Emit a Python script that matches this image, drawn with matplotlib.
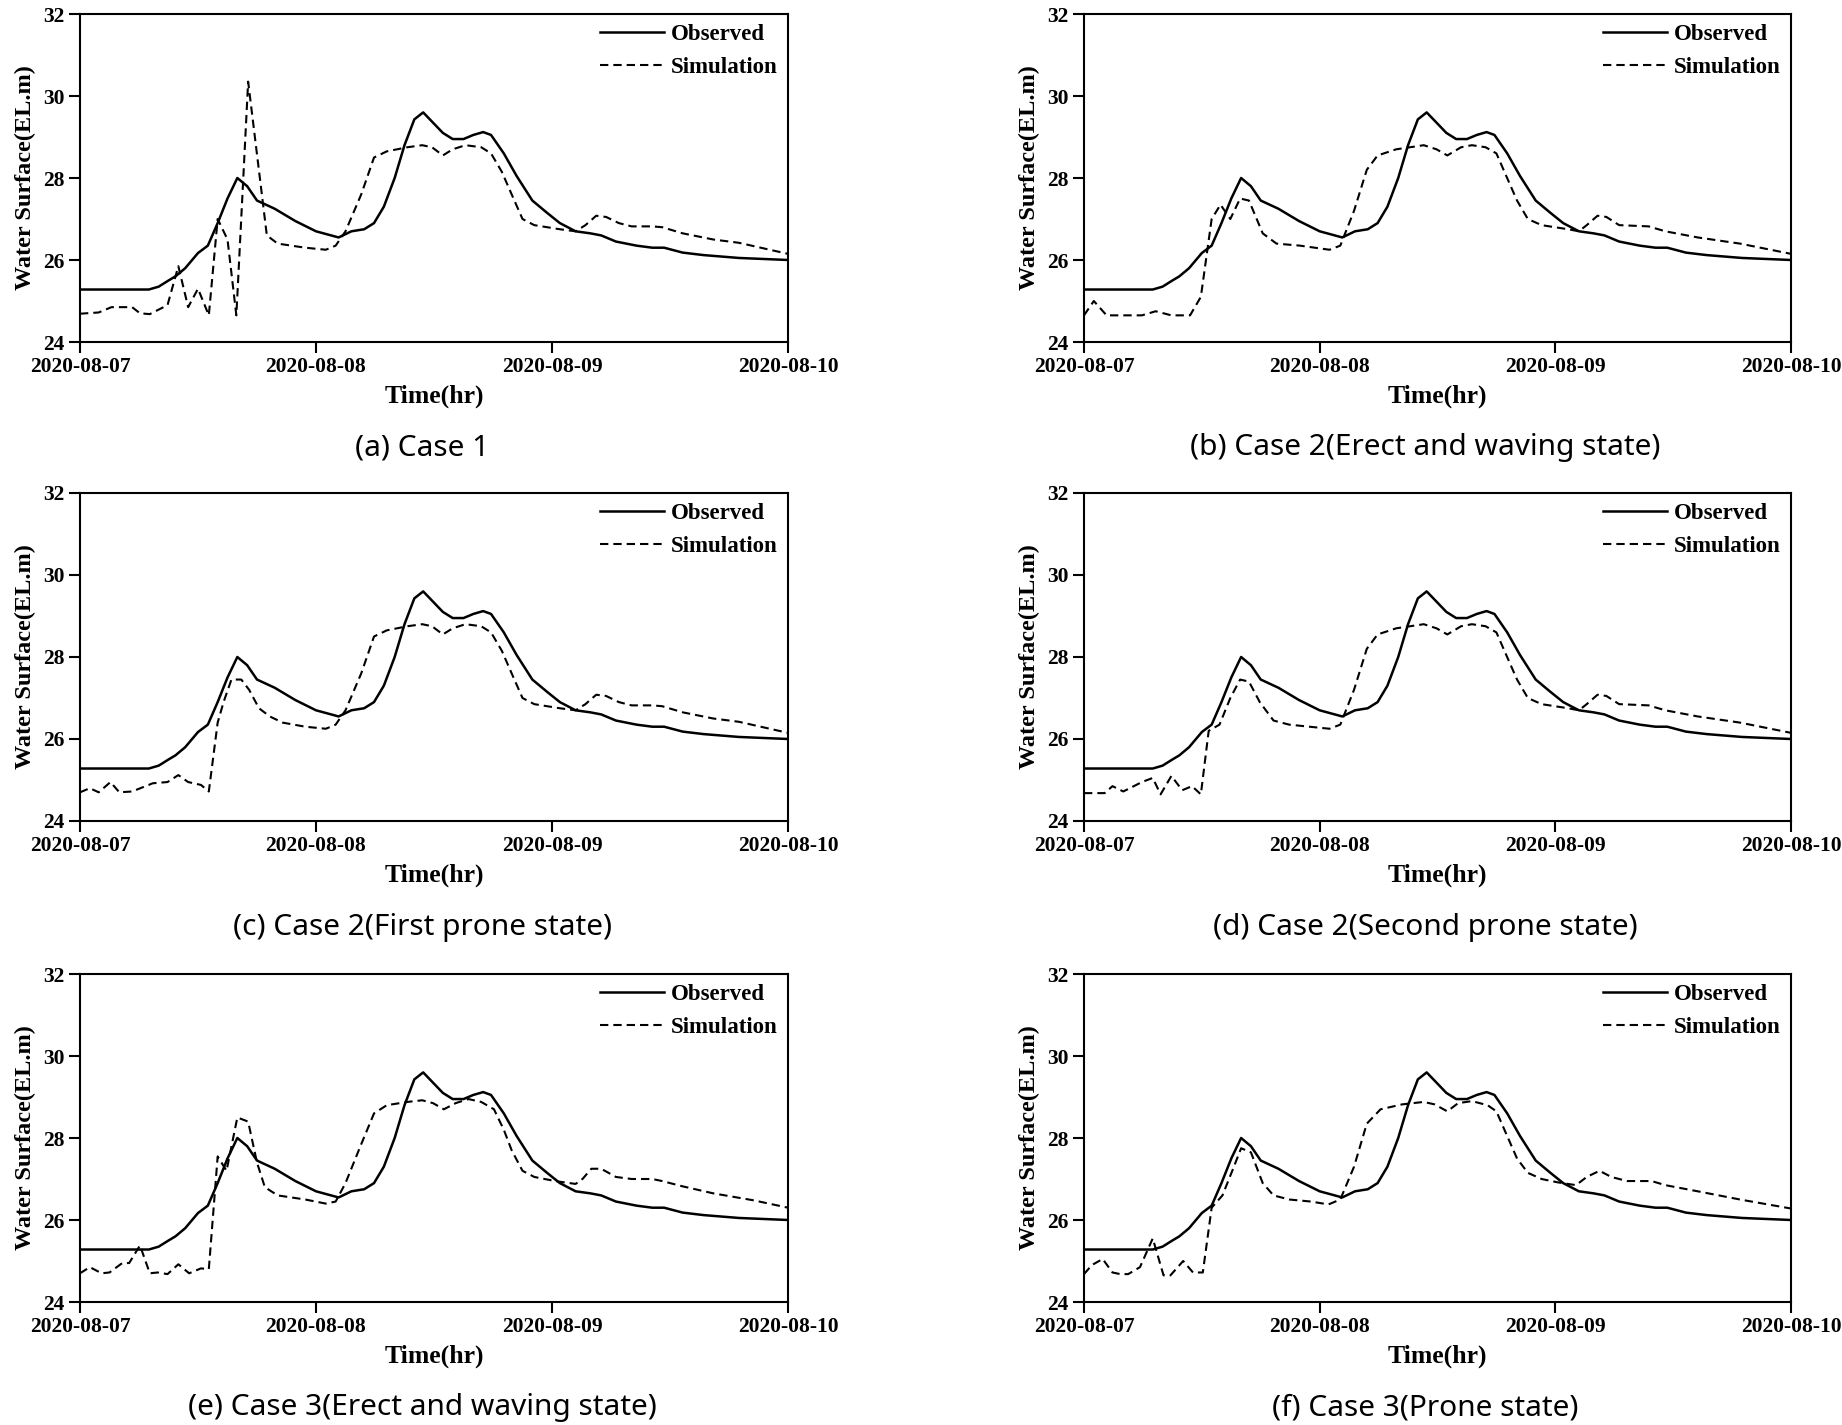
import matplotlib
matplotlib.use("Agg")
import matplotlib.pyplot as plt

# ---------------- data (hours since 2020-08-07 00:00) ----------------
tick_hours = [0, 24, 48, 72]
tick_labels = ["2020-08-07", "2020-08-08", "2020-08-09", "2020-08-10"]
y_ticks = [24, 26, 28, 30, 32]

obs_t = [0, 7, 8, 9, 9.7, 10.7, 12, 13, 14, 15, 16, 17, 18, 19.8, 21.9, 24, 26.3, 27.6,
         28.9, 29.9, 30.9, 32, 33, 34, 34.9, 35.9, 36.9, 37.9, 39, 40, 41, 41.8, 43.1,
         44.4, 46, 47.5, 48.8, 50.4, 51.9, 53, 54.5, 56.6, 58.2, 59.4, 61.3, 63.4, 67, 72]
obs_v = [25.28, 25.28, 25.35, 25.5, 25.6, 25.8, 26.17, 26.35, 26.9, 27.5, 28.0, 27.8,
         27.45, 27.25, 26.95, 26.7, 26.55, 26.7, 26.75, 26.9, 27.3, 28.0, 28.8, 29.43,
         29.6, 29.35, 29.1, 28.95, 28.95, 29.05, 29.12, 29.05, 28.6, 28.05, 27.45, 27.15,
         26.9, 26.7, 26.65, 26.6, 26.45, 26.35, 26.3, 26.3, 26.18, 26.12, 26.05, 26.0]

sim_a_t = [0, 1.9, 3.2, 5.3, 6.1, 7.1, 8.9, 10, 11, 12, 13.1, 14, 15, 15.9, 17.1, 19, 20.1,
           22.9, 25, 26, 27, 28.6, 29.9, 31.2, 33.3, 34.8, 35.8, 36.9, 37.9, 39.2, 40.8,
           41.8, 42.9, 43.9, 45, 46.2, 48.8, 50.4, 51.4, 52.5, 53.5, 54.8, 56.1, 58.2, 59.2,
           61.3, 64.4, 67, 72]
sim_a_v = [24.69, 24.72, 24.85, 24.85, 24.7, 24.68, 24.9, 25.85, 24.85, 25.3, 24.65, 27.0,
           26.5, 24.65, 30.35, 26.6, 26.4, 26.3, 26.25, 26.35, 26.7, 27.6, 28.5, 28.65,
           28.75, 28.8, 28.75, 28.55, 28.7, 28.8, 28.75, 28.6, 28.15, 27.6, 27.0, 26.85,
           26.75, 26.7, 26.85, 27.08, 27.05, 26.9, 26.82, 26.82, 26.8, 26.65, 26.5, 26.42, 26.15]

sim_b_t = [0, 1, 2.3, 5.9, 7.3, 8.9, 10.8, 11.9, 13, 13.9, 14.9, 15.9, 16.8, 18.2, 19.6, 22,
           25, 26.1, 27.5, 28.8, 29.9, 31.8, 34.6, 35.9, 37, 38.4, 39.5, 40.9, 42, 43, 44.1,
           45.2, 46.6, 49.3, 50.4, 51.2, 52.3, 53.2, 54.5, 57.5, 59.2, 62.5, 66.8, 72]
sim_b_v = [24.65, 25.0, 24.65, 24.65, 24.75, 24.65, 24.65, 25.1, 27.0, 27.35, 27.0, 27.5,
           27.45, 26.65, 26.4, 26.35, 26.25, 26.35, 27.2, 28.2, 28.55, 28.7, 28.8, 28.7,
           28.55, 28.75, 28.8, 28.75, 28.6, 28.05, 27.45, 27.0, 26.85, 26.75, 26.7, 26.85,
           27.08, 27.05, 26.85, 26.82, 26.7, 26.55, 26.4, 26.15]

sim_c_t = [0, 1, 1.9, 3.1, 4, 5.3, 7.4, 8.9, 10, 11, 12.3, 13.1, 14, 14.6, 15.4, 16.4, 17.2,
           18.2, 19.3, 20.6, 22.9, 25, 26, 27, 28.6, 29.9, 31.2, 33.3, 34.8, 35.8, 36.9, 37.9,
           39.2, 40.8, 41.8, 42.9, 43.9, 45, 46.2, 48.8, 50.4, 51.4, 52.5, 53.5, 54.8, 56.1,
           58.2, 59.2, 61.3, 64.4, 67, 72]
sim_c_v = [24.7, 24.8, 24.7, 24.95, 24.7, 24.72, 24.92, 24.95, 25.12, 24.95, 24.88, 24.72,
           26.4, 26.9, 27.45, 27.45, 27.2, 26.75, 26.55, 26.4, 26.3, 26.25, 26.35, 26.7,
           27.6, 28.5, 28.65, 28.75, 28.8, 28.75, 28.55, 28.7, 28.8, 28.75, 28.6, 28.15,
           27.6, 27.0, 26.85, 26.75, 26.7, 26.85, 27.08, 27.05, 26.9, 26.82, 26.82, 26.8,
           26.65, 26.5, 26.42, 26.15]

sim_d_t = [0, 2.1, 2.9, 4, 5.9, 7, 7.8, 8.9, 10, 11, 11.9, 12.7, 13.8, 14.9, 15.9, 16.8,
           17.9, 19.3, 20.9, 25, 26.1, 27.5, 28.8, 29.9, 31.8, 34.6, 35.9, 37, 38.4, 39.5,
           40.9, 42, 43, 44.1, 45.2, 46.6, 49.3, 50.4, 51.2, 52.3, 53.2, 54.5, 57.5, 59.2,
           62.5, 66.8, 72]
sim_d_v = [24.68, 24.68, 24.85, 24.72, 24.95, 25.05, 24.65, 25.1, 24.75, 24.85, 24.65,
           26.2, 26.35, 27.0, 27.45, 27.4, 26.9, 26.45, 26.35, 26.25, 26.35, 27.2, 28.2,
           28.55, 28.7, 28.8, 28.7, 28.55, 28.75, 28.8, 28.75, 28.6, 28.05, 27.45, 27.0,
           26.85, 26.75, 26.7, 26.85, 27.08, 27.05, 26.85, 26.82, 26.7, 26.55, 26.4, 26.15]

sim_e_t = [0, 1, 2.2, 3, 4.3, 5, 6.1, 7.1, 7.9, 8.9, 10, 11.1, 12.3, 13.1, 14, 14.9, 16,
           17.1, 18, 18.8, 20.1, 22.9, 25, 26, 27, 28.6, 29.9, 31.2, 33.3, 34.8, 35.9, 37,
           38.2, 39.5, 40.8, 42.1, 43.1, 43.9, 45, 46.2, 48.3, 50.4, 51.1, 52, 53, 54.5,
           56.1, 58.2, 59.2, 61.3, 64.4, 68.5, 72]
sim_e_v = [24.7, 24.85, 24.7, 24.72, 24.95, 24.95, 25.38, 24.7, 24.72, 24.68, 24.92, 24.7,
           24.82, 24.8, 27.55, 27.2, 28.5, 28.4, 27.4, 26.8, 26.6, 26.5, 26.4, 26.45, 26.9,
           27.85, 28.6, 28.8, 28.88, 28.92, 28.85, 28.7, 28.85, 28.95, 28.88, 28.7, 28.2,
           27.7, 27.2, 27.05, 26.95, 26.88, 27.0, 27.25, 27.25, 27.05, 27.0, 27.0, 26.95,
           26.82, 26.65, 26.48, 26.3]

sim_f_t = [0, 0.8, 1.9, 2.9, 3.7, 4.5, 5.7, 7, 8.1, 8.8, 10.1, 11.1, 12.1, 13, 14.1, 15.1,
           16, 17, 18.2, 19.3, 20.9, 23.1, 24.9, 26.1, 27.5, 28.8, 30.2, 32.4, 34.6, 35.7,
           37, 38.1, 39.5, 41.1, 42, 43, 44.1, 45.2, 46.6, 48.2, 50.1, 51.2, 52.5, 53.7,
           55.3, 57.8, 59.2, 62.5, 66.8, 72]
sim_f_v = [24.68, 24.9, 25.05, 24.72, 24.68, 24.68, 24.85, 25.55, 24.65, 24.65, 25.0,
           24.72, 24.72, 26.3, 26.6, 27.2, 27.75, 27.65, 26.9, 26.6, 26.5, 26.45, 26.38,
           26.5, 27.3, 28.35, 28.7, 28.82, 28.88, 28.82, 28.65, 28.85, 28.9, 28.8, 28.65,
           28.1, 27.5, 27.15, 27.0, 26.92, 26.85, 27.05, 27.2, 27.05, 26.95, 26.95, 26.85,
           26.7, 26.5, 26.28]

captions = ["(a) Case 1",
            "(b) Case 2(Erect and waving state)",
            "(c) Case 2(First prone state)",
            "(d) Case 2(Second prone state)",
            "(e) Case 3(Erect and waving state)",
            "(f) Case 3(Prone state)"]
sims = [(sim_a_t, sim_a_v), (sim_b_t, sim_b_v), (sim_c_t, sim_c_v),
        (sim_d_t, sim_d_v), (sim_e_t, sim_e_v), (sim_f_t, sim_f_v)]

# ---------------- figure ----------------
W, H = 1842, 1425
plt.rcParams['font.family'] = ['Liberation Serif', 'DejaVu Serif']
plt.rcParams['font.weight'] = 'bold'
fig = plt.figure(figsize=(W / 100, H / 100), dpi=100)

col_left = [80, 1084]
col_w = [708, 707]
row_top = [14, 493, 974]
row_h = 328
cap_y = [448, 928, 1408]

for i, (st, sv) in enumerate(sims):
    r, c = divmod(i, 2)
    l = col_left[c]
    t = row_top[r]
    ax = fig.add_axes([l / W, 1 - (t + row_h) / H, col_w[c] / W, row_h / H])
    ax.plot(obs_t, obs_v, color='black', lw=1.8, solid_joinstyle='round', label='Observed')
    ax.plot(st, sv, color='black', lw=1.5, dashes=(4.0, 2.4), label='Simulation')
    ax.set_xlim(0, 72)
    ax.set_ylim(24, 32)
    ax.set_xticks(tick_hours)
    ax.set_xticklabels(tick_labels)
    ax.set_yticks(y_ticks)
    ax.tick_params(direction='out', length=8, width=1.5, labelsize=15.5, pad=3)
    for sp in ax.spines.values():
        sp.set_linewidth(1.5)
    ax.set_xlabel('Time(hr)', fontsize=18.5, fontweight='bold', labelpad=5)
    ax.set_ylabel('Water Surface(EL.m)', fontsize=17.5, fontweight='bold', labelpad=5)
    ax.legend(loc='upper right', frameon=False, fontsize=16.5, handlelength=2.8,
              handletextpad=0.3, labelspacing=0.5, borderaxespad=0.05)
    cx = (l + col_w[c] / 2 - 12) / W
    fig.text(cx, 1 - cap_y[r] / H, captions[i], ha='center', va='center',
             fontsize=21.5, fontweight='light', family=['Noto Sans', 'DejaVu Sans'])

fig.savefig('out.png', dpi=100)
